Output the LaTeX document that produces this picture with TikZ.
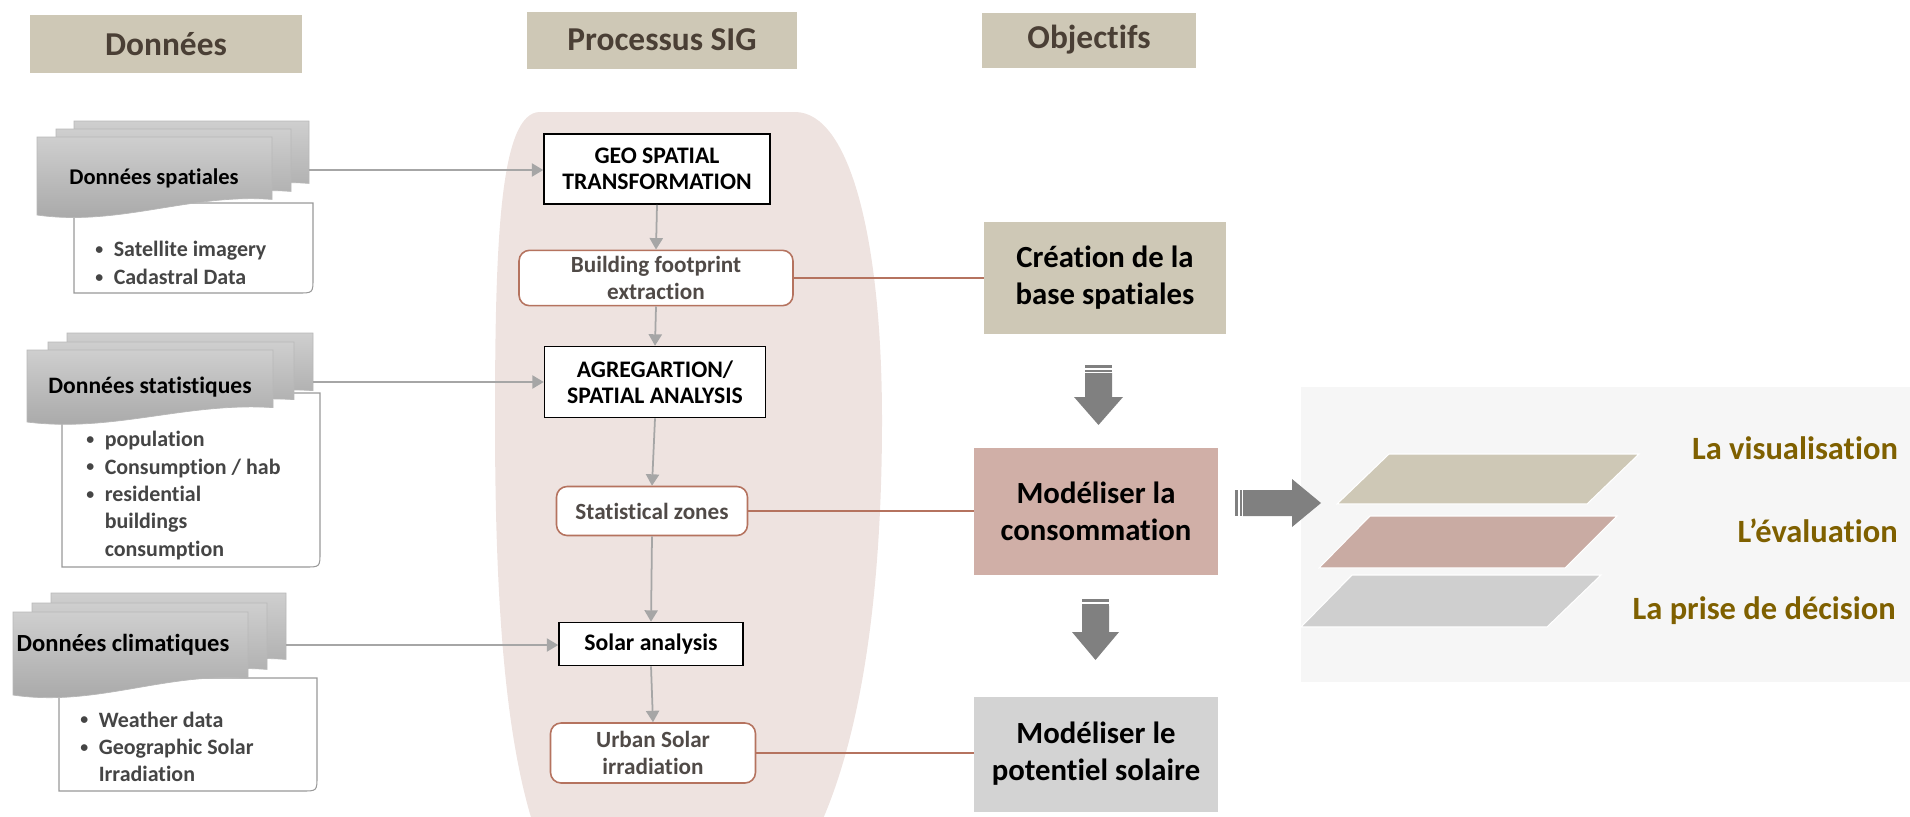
\documentclass[tikz,border=0pt]{standalone}
\usepackage{fontspec}
\setmainfont{Carlito}[Ligatures=NoCommon, Contextuals=NoAlternate]
\usetikzlibrary{arrows.meta,positioning}
\definecolor{beige}{HTML}{CEC8B6}
\definecolor{rosebox}{HTML}{D0AFA7}
\definecolor{graybox}{HTML}{D3D3D3}
\definecolor{headbrown}{HTML}{4A3F35}
\definecolor{linkbrown}{HTML}{B5735F}
\definecolor{backdrop}{HTML}{EEE3E0}
\definecolor{arrowgray}{HTML}{A6A6A6}
\definecolor{blockgray}{HTML}{808080}
\definecolor{bulletgray}{HTML}{454545}
\definecolor{resgray}{HTML}{504A47}
\definecolor{panelgray}{HTML}{F6F6F6}
\definecolor{layerrose}{HTML}{C9ABA3}
\definecolor{layergray}{HTML}{CFCFCF}
\definecolor{labelolive}{HTML}{7F6000}
\newcommand{\smallbullet}{\raisebox{1.2pt}{\fontsize{9}{9}\selectfont\textbullet}}

\begin{document}
\begin{tikzpicture}[x=0.02cm, y=-0.02cm,
    every node/.style={font=\bfseries},
    header/.style={rectangle, fill=beige, text=headbrown,
        font=\fontsize{19}{22}\selectfont\bfseries},
    procbox/.style={rectangle, draw=black, line width=0.9pt, fill=white, align=center,
        font=\fontsize{13.5}{15}\selectfont\bfseries},
    resbox/.style={rectangle, rounded corners=6pt, draw=linkbrown, line width=0.9pt,
        fill=white, align=center, text=resgray, font=\fontsize{13.2}{15.5}\selectfont\bfseries},
    goalbox/.style={rectangle, align=center, font=\fontsize{17.5}{21}\selectfont\bfseries},
    doctitle/.style={font=\fontsize{13.4}{16}\selectfont\bfseries},
    bullets/.style={anchor=west, inner sep=0pt, text=bulletgray,
        font=\fontsize{12.5}{15.6}\selectfont\bfseries},
    detailbox/.style={draw=gray!80, line width=0.6pt, fill=white},
    docshade/.style={top color=black!19, bottom color=black!35, draw=white!72!black, line width=0.4pt},
    feed/.style={-{Triangle[length=6.5pt,width=7.5pt]}, draw=arrowgray, line width=1pt},
    link/.style={draw=linkbrown, line width=0.8pt},
    blockarrow/.style={fill=blockgray},
    layer/.style={draw=white, line width=0.6pt},
    layerlabel/.style={anchor=east, text=labelolive, font=\fontsize{18.5}{22}\selectfont\bfseries},
    docw/.store in=\docw, doch/.store in=\doch,
    docpage/.pic={\path[docshade] (0,0) -- (\docw,0) -- (\docw,0.8*\doch)
        .. controls (0.65*\docw,0.72*\doch) and (0.35*\docw,1.15*\doch) .. (0,\doch) -- cycle;},
]
\useasboundingbox (0,0) rectangle (1910,816);

% Process backdrop
\fill[backdrop] (540,112) -- (795,112) .. controls (850,112) and (882,240) .. (882,420)
    .. controls (882,600) and (860,740) .. (818,830) -- (535,830)
    .. controls (505,740) and (495,600) .. (495,420)
    .. controls (495,240) and (500,112) .. (540,112) -- cycle;

% Column headers
\node[header, minimum width=5.46cm, minimum height=1.16cm] (donnees) at (166,44) {Données};
\node[header, minimum width=5.4cm, minimum height=1.14cm] (processus) at (662,40) {Processus SIG};
\node[header, minimum width=4.28cm, minimum height=1.1cm] (objectifs) at (1089,40) {Objectifs};

% Données spatiales
\draw[detailbox] (74,203) -- (313,203) -- (313,278) .. controls (313,293) .. (298,293) -- (74,293) -- cycle;
\begin{scope}[docw=235, doch=78]
    \pic at (74,121) {docpage};
    \pic at (56,129) {docpage};
    \pic at (37,137) {docpage};
\end{scope}
\node[doctitle, font=\fontsize{12.8}{15}\selectfont\bfseries] (spatial) at (154,178) {Données spatiales};
\coordinate (spatialout) at (309,170);
\node[bullets] (spatiallist) at (95,265) {\begin{tabular}{@{}l@{\hspace{6pt}}l@{}}
    \smallbullet & Satellite imagery\\
    \smallbullet & Cadastral Data
\end{tabular}};

% Données statistiques
\draw[detailbox] (62,393) -- (320,393) -- (320,552) .. controls (320,567) .. (305,567) -- (62,567) -- cycle;
\begin{scope}[docw=246, doch=72]
    \pic at (67,333) {docpage};
    \pic at (48,342) {docpage};
    \pic at (27,350) {docpage};
\end{scope}
\node[doctitle] (statistic) at (150,387) {Données statistiques};
\coordinate (statout) at (313,382);
\node[bullets] (statlist) at (86,496) {\begin{tabular}{@{}l@{\hspace{6pt}}l@{}}
    \smallbullet & population\\
    \smallbullet & Consumption / hab\\
    \smallbullet & residential\\
    & buildings\\
    & consumption
\end{tabular}};

% Données climatiques
\draw[detailbox] (59,678) -- (317,678) -- (317,776) .. controls (317,791) .. (302,791) -- (59,791) -- cycle;
\begin{scope}[docw=235, doch=83]
    \pic at (51,593) {docpage};
    \pic at (32,603) {docpage};
    \pic at (13,612) {docpage};
\end{scope}
\node[doctitle, font=\fontsize{14}{16}\selectfont\bfseries] (climate) at (123,645) {Données climatiques};
\coordinate (climout) at (286,645);
\node[bullets] (climlist) at (80,749) {\begin{tabular}{@{}l@{\hspace{6pt}}l@{}}
    \smallbullet & Weather data\\
    \smallbullet & Geographic Solar\\
    & Irradiation
\end{tabular}};

% SIG process
\node[procbox, minimum width=4.52cm, minimum height=1.4cm] (geo) at (657,169) {GEO SPATIAL\\TRANSFORMATION};
\node[resbox, minimum width=5.48cm, minimum height=1.08cm] (footprint) at (656,278) {Building footprint\\extraction};
\node[procbox, minimum width=4.42cm, minimum height=1.42cm] (agreg) at (655,382) {AGREGARTION/\\SPATIAL ANALYSIS};
\node[resbox, minimum width=3.82cm, minimum height=0.98cm] (zones) at (652,511) {Statistical zones};
\node[procbox, minimum width=3.68cm, minimum height=0.86cm] (solar) at (651,644) {Solar analysis};
\node[resbox, minimum width=4.1cm, minimum height=1.2cm] (urban) at (653,753) {Urban Solar\\irradiation};

% Data inputs
\draw[feed] (spatialout) -- (spatialout -| geo.west);
\draw[feed] (statout) -- (statout -| agreg.west);
\draw[feed] (climout) -- (climout -| solar.west);

% Process chain
\draw[feed] (geo.south) -- (footprint.north);
\draw[feed] (footprint.south) -- (agreg.north);
\draw[feed] (agreg.south) -- (zones.north);
\draw[feed] (zones.south) -- (solar.north);
\draw[feed] (solar.south) -- (urban.north);

% Objectives
\node[goalbox, fill=beige, minimum width=4.84cm, minimum height=2.26cm] (crea) at (1105,278) {Création de la\\base spatiales};
\node[goalbox, fill=rosebox, minimum width=4.88cm, minimum height=2.54cm] (conso) at (1096,511) {Modéliser la\\consommation};
\node[goalbox, fill=graybox, minimum width=4.88cm, minimum height=2.3cm] (solaire) at (1096,754) {Modéliser le\\potentiel solaire};

\draw[link] (footprint) -- (crea);
\draw[link] (zones) -- (conso);
\draw[link] (urban.east) -- (urban.east -| solaire.west);

% Block arrows
\fill[blockarrow] (1085,373) -- (1112,373) -- (1112,397) -- (1123,397) -- (1098.5,425) -- (1074,397) -- (1085,397) -- cycle;
\fill[blockarrow] (1085,365) rectangle (1112,367.5);
\fill[blockarrow] (1085,369.5) rectangle (1112,371.5);
\fill[blockarrow] (1082,606) -- (1109,606) -- (1109,632) -- (1119,632) -- (1095.5,660) -- (1072,632) -- (1082,632) -- cycle;
\fill[blockarrow] (1082,599) rectangle (1109,601.5);
\fill[blockarrow] (1082,603.5) rectangle (1109,605.5);

% Outputs panel
\fill[panelgray] (1301,387) rectangle (1910,682);
\fill[blockarrow] (1243,490) -- (1292,490) -- (1292,479) -- (1321,503) -- (1292,527) -- (1292,516) -- (1243,516) -- cycle;
\fill[blockarrow] (1235,490) rectangle (1237.5,516);
\fill[blockarrow] (1239.5,490) rectangle (1241.5,516);

\filldraw[layer, fill=beige] (1337,504) -- (1389,454) -- (1639,454) -- (1587,504) -- cycle;
\filldraw[layer, fill=layerrose] (1319,568) -- (1370,516) -- (1617,516) -- (1565,568) -- cycle;
\filldraw[layer, fill=layergray] (1301,627) -- (1352,575) -- (1601,575) -- (1547,627) -- cycle;

\node[layerlabel] (visu) at (1904,448) {La visualisation};
\node[layerlabel] (evalu) at (1904,531) {L’évaluation};
\node[layerlabel] (decision) at (1902,611) {La prise de décision};

\end{tikzpicture}
\end{document}
